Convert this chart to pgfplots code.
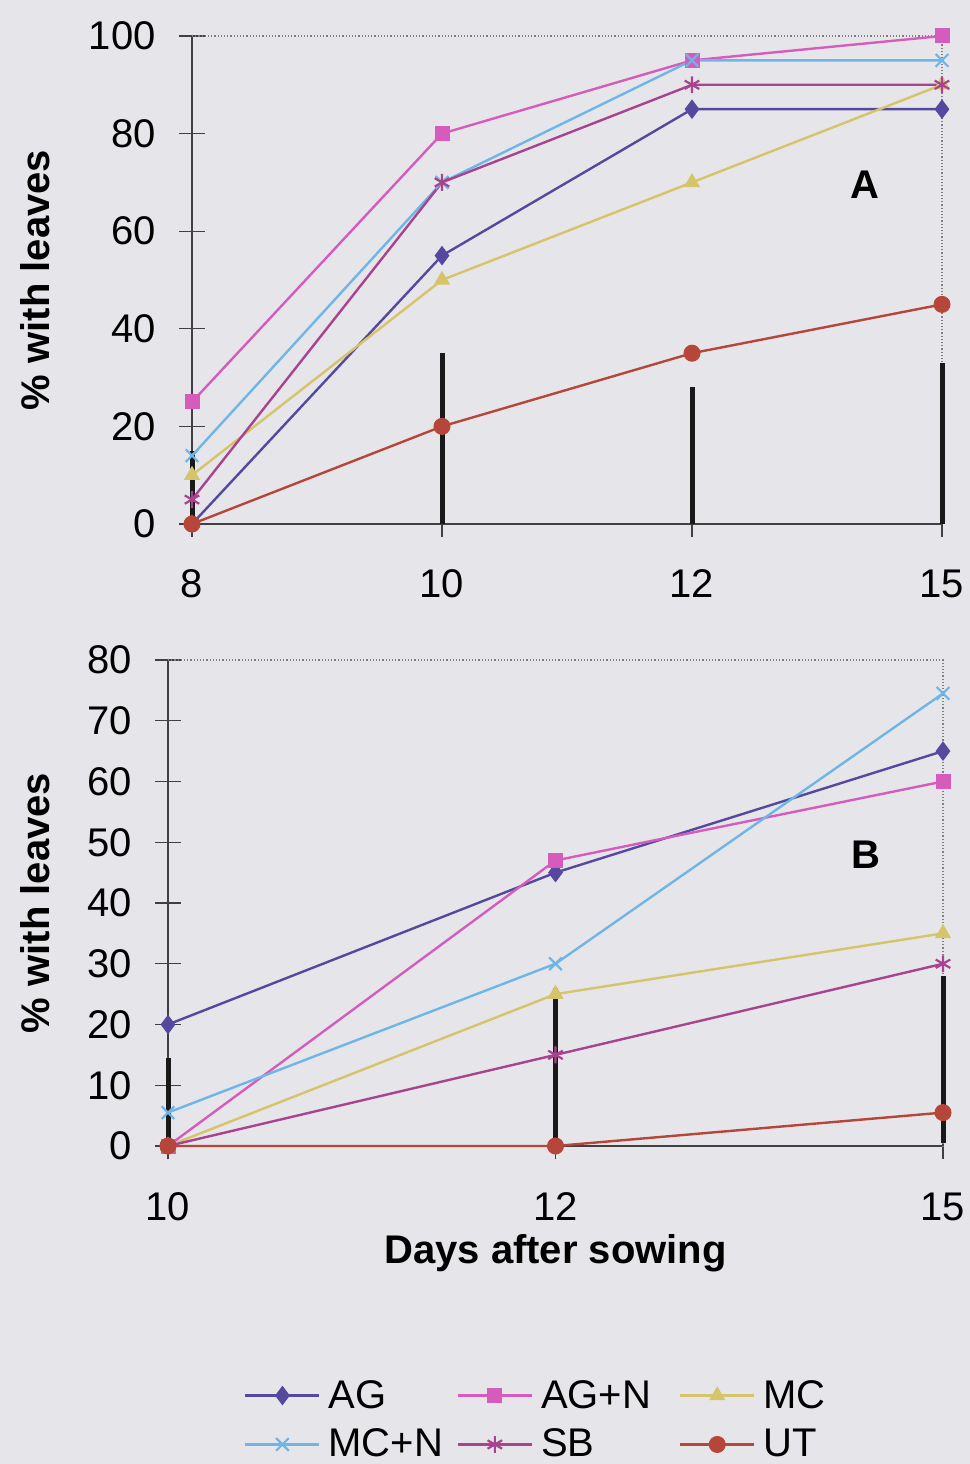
\documentclass[border=0pt]{standalone}
\usepackage{fontspec}
\setmainfont{Liberation Sans}
\usepackage{pgfplots}
\pgfplotsset{compat=1.18}
\definecolor{bg}{HTML}{E6E6EA}
\definecolor{cAG}{HTML}{54499F}
\definecolor{cAGN}{HTML}{D55CBC}
\definecolor{cMC}{HTML}{D6C46A}
\definecolor{cMCN}{HTML}{6FB6E6}
\definecolor{cSB}{HTML}{A8438E}
\definecolor{cUT}{HTML}{B6463A}
\pgfplotsset{
 mystyle/.style={
  scale only axis, clip=false,
  axis lines*=left,
  axis line style={-, draw=black!75, line width=0.6pt},
  tick align=center, major tick length=13pt,
  tick style={draw=black!75, line width=0.6pt},
  ticklabel style={font=\fontsize{20}{24}\selectfont, inner sep=0pt},
  /pgf/number format/assume math mode=true,
  xticklabel style={anchor=base, yshift=-30.5pt},
  yticklabel style={anchor=east, xshift=-11.5pt},
  every axis y label/.style={rotate=90, anchor=center, font=\fontsize{20}{24}\selectfont\bfseries},
  every axis x label/.style={anchor=base, font=\fontsize{20}{24}\selectfont\bfseries},
  legend image code/.code={\draw[mark repeat=2,mark phase=2] plot coordinates {(0pt,0pt) (18.5pt,0pt) (37pt,0pt)};},
 },
 ebar/.style={draw=black!90, line width=2.5pt, no marks, forget plot},
 sAG/.style={draw=cAG, line width=1.2pt, mark=diamond*, mark size=4.5pt, mark options={fill=cAG, draw=cAG, line width=0.5pt}},
 sAGN/.style={draw=cAGN, line width=1.2pt, mark=square*, mark size=3.5pt, mark options={fill=cAGN, draw=cAGN, line width=0.5pt}},
 sMC/.style={draw=cMC, line width=1.2pt, mark=triangle*, mark size=4.2pt, mark options={fill=cMC, draw=cMC, line width=0.5pt}},
 sMCN/.style={draw=cMCN, line width=1.2pt, mark=x, mark size=4.5pt, mark options={draw=cMCN, line width=1.1pt}},
 sSB/.style={draw=cSB, line width=1.2pt, mark=asterisk, mark size=4.2pt, mark options={draw=cSB, line width=1.1pt}},
 sUT/.style={draw=cUT, line width=1.2pt, mark=*, mark size=4pt, mark options={fill=cUT, draw=cUT, line width=0.5pt}},
}
\begin{document}
\begin{tikzpicture}
\fill[bg] (0,0) rectangle (485pt,732pt);
% ---------------- Panel A ----------------
\begin{axis}[mystyle,
  at={(96pt,470pt)}, anchor=south west,
  width=375pt, height=244pt,
  xmin=0, xmax=3, ymin=0, ymax=100,
  xtick={0,1,2,3}, xticklabels={8,10,12,15},
  ytick={0,20,40,60,80,100},
  ylabel={\% with leaves},
  ylabel style={at={(axis description cs:-0.2093,0.5)}},
]
\draw[black!50, densely dotted, line width=0.6pt] (rel axis cs:0,1) -- (rel axis cs:1,1) -- (rel axis cs:1,0);
\addplot[ebar] coordinates {(0,0) (0,15)};
\addplot[ebar] coordinates {(1,0) (1,35)};
\addplot[ebar] coordinates {(2,0) (2,28)};
\addplot[ebar] coordinates {(3,0) (3,33)};
\addplot[sAG]  coordinates {(0,0) (1,55) (2,85) (3,85)};
\addplot[sAGN] coordinates {(0,25) (1,80) (2,95) (3,100)};
\addplot[sMC]  coordinates {(0,10) (1,50) (2,70) (3,90)};
\addplot[sMCN] coordinates {(0,14) (1,70) (2,95) (3,95)};
\addplot[sSB]  coordinates {(0,5) (1,70) (2,90) (3,90)};
\addplot[sUT]  coordinates {(0,0) (1,20) (2,35) (3,45)};
\node[font=\fontsize{20}{24}\selectfont\bfseries] at (rel axis cs:0.897,0.695) {A};
\end{axis}
% ---------------- Panel B ----------------
\begin{axis}[mystyle,
  at={(84pt,159pt)}, anchor=south west,
  width=387.5pt, height=243pt,
  xmin=0, xmax=2, ymin=0, ymax=80,
  xtick={0,1,2}, xticklabels={10,12,15},
  ytick={0,10,20,30,40,50,60,70,80},
  ylabel={\% with leaves},
  ylabel style={at={(axis description cs:-0.1716,0.5)}},
  xlabel={Days after sowing},
  xlabel style={at={(axis description cs:0.5,0)}, yshift=-58.5pt},
  legend columns=3,
  legend style={at={(axis description cs:0.4735,-0.5638)}, anchor=center,
    draw=none, fill=none, inner sep=0pt, outer sep=0pt,
    font=\fontsize{20}{24}\selectfont,
    column sep=0pt, row sep=9pt,
    nodes={inner sep=0pt}},
  legend cell align=left,
]
\draw[black!50, densely dotted, line width=0.6pt] (rel axis cs:0,1) -- (rel axis cs:1,1) -- (rel axis cs:1,0);
\addplot[ebar] coordinates {(0,0) (0,14.5)};
\addplot[ebar] coordinates {(1,0) (1,26)};
\addplot[ebar] coordinates {(2,0.5) (2,28)};
\addplot[sAG]  coordinates {(0,20) (1,45) (2,65)};
\addlegendentry{\makebox[68pt][l]{\hspace{4pt}AG}}
\addplot[sAGN] coordinates {(0,0) (1,47) (2,60)};
\addlegendentry{\makebox[73pt][l]{\hspace{4pt}AG+N}}
\addplot[sMC]  coordinates {(0,0) (1,25) (2,35)};
\addlegendentry{\hspace{4pt}MC}
\addplot[sMCN] coordinates {(0,5.5) (1,30) (2,74.5)};
\addlegendentry{\makebox[68pt][l]{\hspace{4pt}MC+N}}
\addplot[sSB]  coordinates {(0,0) (1,15) (2,30)};
\addlegendentry{\makebox[73pt][l]{\hspace{4pt}SB}}
\addplot[sUT]  coordinates {(0,0) (1,0) (2,5.5)};
\addlegendentry{\hspace{4pt}UT}
\node[font=\fontsize{20}{24}\selectfont\bfseries] at (rel axis cs:0.9006,0.599) {B};
\end{axis}
\pgfresetboundingbox
\useasboundingbox (0,0) rectangle (485pt,732pt);
\end{tikzpicture}
\end{document}
